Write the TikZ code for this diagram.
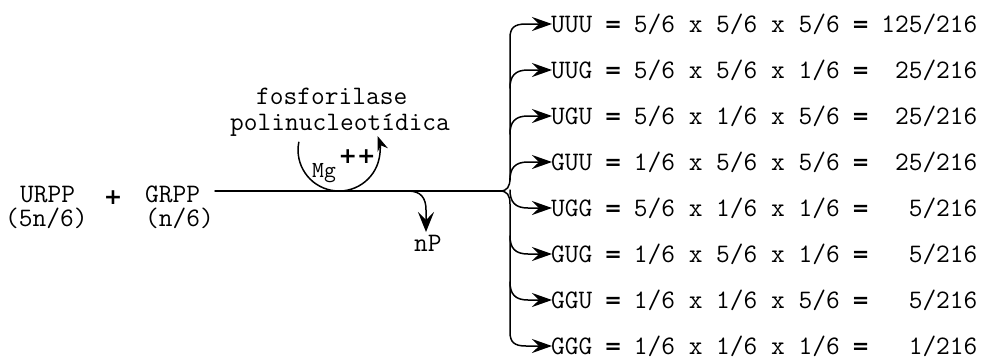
\documentclass[tikz,border=0pt]{standalone}
\usepackage{fontspec}
\usetikzlibrary{arrows.meta}
\newfontfamily\heavyface{DejaVu Sans}
\tikzset{
  tw/.style={font=\fontsize{26.67}{32}\selectfont\ttfamily, inner sep=0pt, anchor=base west},
  twsmall/.style={font=\fontsize{23}{27}\selectfont\ttfamily, inner sep=0pt, anchor=base west},
  plussign/.style={font=\fontsize{22}{24}\selectfont\heavyface\bfseries, inner sep=0pt},
  wire/.style={line width=1.5pt, line cap=round},
  rowtip/.style={-{Stealth[length=20pt,width=14pt,inset=7pt]}},
  downtip/.style={-{Stealth[length=20pt,width=16pt,inset=8pt]}},
  uptip/.style={-{Stealth[length=15pt,width=11pt,inset=5pt]}},
}
% heavy equals sign kept to one typewriter cell
\newcommand\eqs{\makebox[0.525em][c]{\raisebox{1pt}{\fontsize{21}{24}\selectfont\heavyface\bfseries =}}}
\begin{document}
\begin{tikzpicture}[x=1pt,y=-1pt]
\useasboundingbox (0,0) rectangle (992,362);

% reactants
\node[tw] (urpp) at (20,202) {URPP};
\node[tw] (urppn) at (5,226) {(5n/6)};
\node[plussign] (plus) at (113,198) {+};
\node[tw] (grpp) at (145,202) {GRPP};
\node[tw] (grppn) at (145,226) {(n/6)};

% enzyme
\node[tw] (enz1) at (256,104) {fosforilase};
\node[tw] (enz2) at (230,130) {polinucleotídica};
\node[twsmall] (mg) at (312,177) {Mg};
\node[plussign] (mgpp) at (357,157) {++};
\node[tw] (np) at (414,251) {nP};

% products
\node[tw] (r1) at (551,32)  {UUU \eqs{} 5/6 x 5/6 x 5/6 \eqs{} 125/216};
\node[tw] (r2) at (551,78)  {UUG \eqs{} 5/6 x 5/6 x 1/6 \eqs{}~~25/216};
\node[tw] (r3) at (551,124) {UGU \eqs{} 5/6 x 1/6 x 5/6 \eqs{}~~25/216};
\node[tw] (r4) at (551,170) {GUU \eqs{} 1/6 x 5/6 x 5/6 \eqs{}~~25/216};
\node[tw] (r5) at (551,216) {UGG \eqs{} 5/6 x 1/6 x 1/6 \eqs{}~~~5/216};
\node[tw] (r6) at (551,262) {GUG \eqs{} 1/6 x 5/6 x 1/6 \eqs{}~~~5/216};
\node[tw] (r7) at (551,308) {GGU \eqs{} 1/6 x 1/6 x 5/6 \eqs{}~~~5/216};
\node[tw] (r8) at (551,354) {GGG \eqs{} 1/6 x 1/6 x 1/6 \eqs{}~~~1/216};

% arrow tips in front of the products
\coordinate (t1) at (552,24);
\coordinate (t2) at (552,70);
\coordinate (t3) at (552,116);
\coordinate (t4) at (552,162);
\coordinate (t5) at (552,208);
\coordinate (t6) at (552,254);
\coordinate (t7) at (552,300);
\coordinate (t8) at (552,346);

% main reaction line
\coordinate (in) at (215,191);
\coordinate (split) at (500,191);
\draw[wire] (in) -- (split);

% Mg++ loop
\coordinate (mgA) at (298.8,142.2);
\draw[wire,uptip] (mgA) arc[start angle=191, end angle=-20, radius=41];

% released phosphate
\coordinate (npfrom) at (408,191);
\draw[wire,downtip,shorten >=2pt] (npfrom) .. controls (421,191) and (426,198) .. (426,210) -- (426,234);

% branching to the products
\draw[wire,rowtip] (split) .. controls (507,191) and (510,187) .. (510,178)
  -- (510,38) .. controls (510,28) and (514,24) .. (526,24) -- (t1);
\draw[wire,rowtip] (split) .. controls (507,191) and (510,195) .. (510,204)
  -- (510,332) .. controls (510,342) and (514,346) .. (526,346) -- (t8);
\draw[wire,rowtip] (510,88) .. controls (510,76) and (515,70) .. (528,70) -- (t2);
\draw[wire,rowtip] (510,134) .. controls (510,122) and (515,116) .. (528,116) -- (t3);
\draw[wire,rowtip] (510,180) .. controls (510,168) and (515,162) .. (528,162) -- (t4);
\draw[wire,rowtip] (510,190) .. controls (510,202) and (515,208) .. (528,208) -- (t5);
\draw[wire,rowtip] (510,236) .. controls (510,248) and (515,254) .. (528,254) -- (t6);
\draw[wire,rowtip] (510,282) .. controls (510,294) and (515,300) .. (528,300) -- (t7);
\end{tikzpicture}
\end{document}
